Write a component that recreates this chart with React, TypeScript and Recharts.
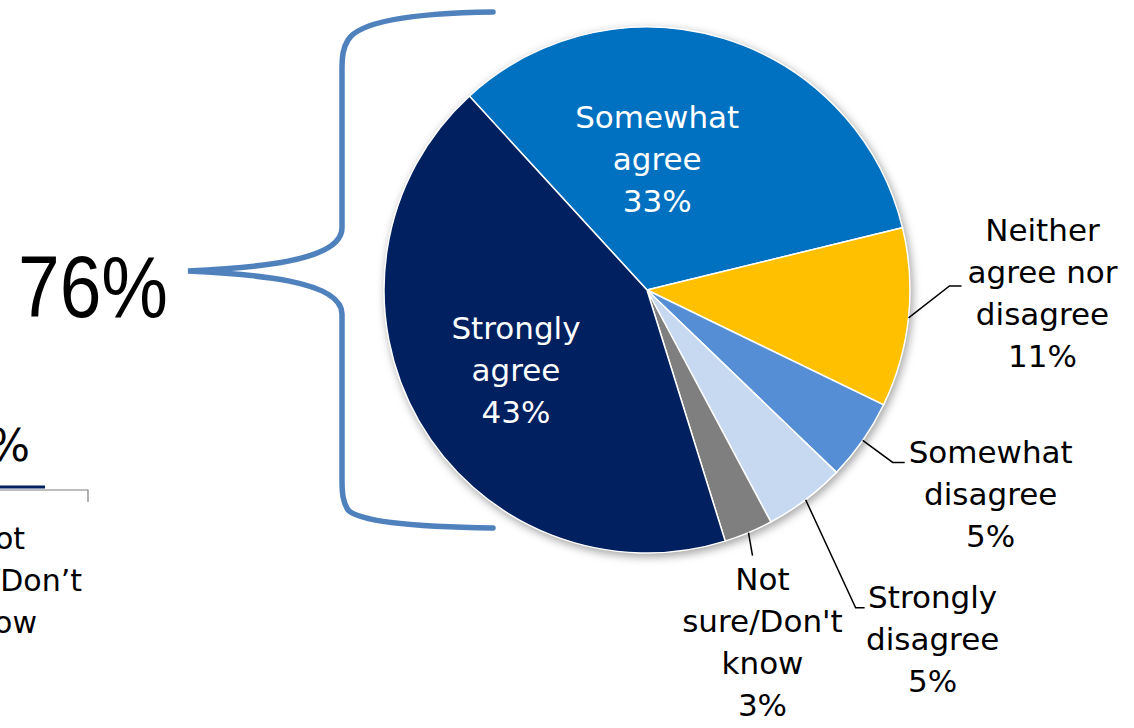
import React from "react";
import { PieChart, Pie, Cell } from "recharts";

const categories = [
  "Somewhat agree",
  "Neither agree nor disagree",
  "Somewhat disagree",
  "Strongly disagree",
  "Not sure/Don't know",
  "Strongly agree",
];
const values = [33, 11, 5, 5, 3, 43];
const labelLines = [
  ["Somewhat", "agree"],
  ["Neither", "agree nor", "disagree"],
  ["Somewhat", "disagree"],
  ["Strongly", "disagree"],
  ["Not", "sure/Don't", "know"],
  ["Strongly", "agree"],
];
const colors = ["#0070C0", "#FFC000", "#558ED5", "#C6D9F1", "#7F7F7F", "#002060"];
const totalLabel = "76%";

// label layout: inside labels -> offset from mid-radius point; outside -> leader elbow & text
const labelLayout = [
  { inside: true, dx: -28, dy: -5 },
  { inside: false, elbow: [41, -32], end: [53, -32], text: [134, -77] },
  { inside: false, elbow: [30, 22], end: [42, 22], text: [128, 23] },
  { inside: false, elbow: [50, 108], end: [59, 108], text: [127, 108] },
  { inside: false, elbow: [4, 23], end: [4, 23], text: [14, 57] },
  { inside: true, dx: -17, dy: 14 },
];

const data = categories.map((c, i) => ({ name: c, value: values[i] }));
const FONT = "'DejaVu Sans', Verdana, sans-serif";
const RAD = Math.PI / 180;
const LH = 42;

const renderLabel = (props: any) => {
  const { cx, cy, midAngle, outerRadius, index } = props;
  const lay: any = labelLayout[index];
  const lines = labelLines[index];
  const all = [...lines, `${values[index]}%`];
  const cos = Math.cos(-midAngle * RAD);
  const sin = Math.sin(-midAngle * RAD);
  if (lay.inside) {
    const x = cx + outerRadius * 0.5 * cos + lay.dx;
    const y = cy + outerRadius * 0.5 * sin + lay.dy;
    const y0 = y - ((all.length - 1) * LH) / 2 + 11;
    return (
      <text key={`l${index}`} textAnchor="middle" fill="#fff" fontFamily={FONT} fontSize={31}>
        {all.map((t, k) => (
          <tspan key={k} x={x} y={y0 + k * LH}>{t}</tspan>
        ))}
      </text>
    );
  }
  const sx = cx + outerRadius * cos;
  const sy = cy + outerRadius * sin;
  const ex = sx + lay.elbow[0];
  const ey = sy + lay.elbow[1];
  const fx = sx + lay.end[0];
  const fy = sy + lay.end[1];
  const tx = sx + lay.text[0];
  const ty = sy + lay.text[1];
  return (
    <g key={`l${index}`}>
      <polyline points={`${sx},${sy} ${ex},${ey} ${fx},${fy}`} fill="none" stroke="#000" strokeWidth={1.5} />
      <text textAnchor="middle" fill="#000" fontFamily={FONT} fontSize={31}>
        {all.map((t, k) => (
          <tspan key={k} x={tx} y={ty + k * LH}>{t}</tspan>
        ))}
      </text>
    </g>
  );
};

export default function App() {
  return (
    <div style={{ position: "absolute", left: 0, top: 0, background: "#fff" }}>
      <PieChart width={1134} height={728} margin={{ top: 0, right: 0, bottom: 0, left: 0 }}>
        <defs>
          <filter id="pieShadow" x="-20%" y="-20%" width="140%" height="140%">
            <feGaussianBlur stdDeviation="4" />
          </filter>
        </defs>
        <Pie
          data={[{ name: "shadow", value: 1 }]}
          dataKey="value"
          cx={649}
          cy={293}
          outerRadius={264}
          startAngle={90}
          endAngle={-270}
          isAnimationActive={false}
          stroke="none"
          legendType="none"
        >
          <Cell fill="rgba(0,0,0,0.35)" style={{ filter: "url(#pieShadow)" }} />
        </Pie>
        <Pie
          data={data}
          dataKey="value"
          nameKey="name"
          cx={647}
          cy={290}
          outerRadius={263}
          startAngle={132.5}
          endAngle={-227.5}
          stroke="#fff"
          strokeWidth={1.5}
          label={renderLabel}
          labelLine={false}
          isAnimationActive={false}
        >
          {data.map((d, i) => (
            <Cell key={d.name} fill={colors[i]} />
          ))}
        </Pie>
        <path
          d="M 493 12 C 420 13, 360 20, 348 40 C 343 48, 342 56, 342 70 L 342 228 C 342 262, 250 268, 188 271 C 250 274, 342 280, 342 314 L 342 480 C 342 494, 343 502, 348 510 C 360 522, 420 527, 493 528"
          fill="none"
          stroke="#4F81BD"
          strokeWidth={5.5}
          strokeLinecap="round"
        />
        <text x={18} y={317} fontFamily="'Liberation Sans', Arial, sans-serif" fontSize={88} fill="#000" textLength={150} lengthAdjust="spacingAndGlyphs">
          {totalLabel}
        </text>
        {/* remnants of a neighbouring chart, cut at the left edge */}
        <text x={30} y={461} textAnchor="end" fontFamily={FONT} fontSize={44} fill="#000">3%</text>
        <line x1={0} y1={487} x2={45} y2={487} stroke="#002060" strokeWidth={3} />
        <polyline points="0,490 88,490 88,502" fill="none" stroke="#7F7F7F" strokeWidth={1.2} />
        <text textAnchor="end" fontFamily={FONT} fontSize={30} fill="#000">
          <tspan x={25} y={549}>Not</tspan>
          <tspan x={82} y={591}>sure/Don’t</tspan>
          <tspan x={37} y={633}>know</tspan>
        </text>
      </PieChart>
    </div>
  );
}
